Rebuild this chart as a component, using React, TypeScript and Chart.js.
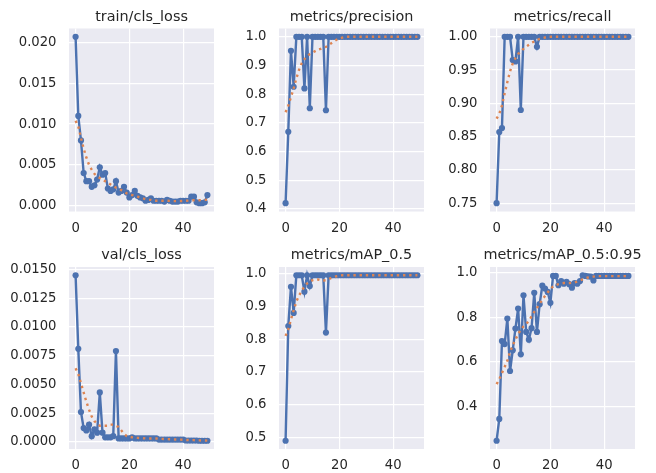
import React, { useEffect, useRef } from 'react';
import { Chart, registerables } from 'chart.js';

Chart.register(...registerables);

// ---------- data ----------
const epochs = Array.from({ length: 50 }, (_, i) => i);
const xTicks = [0, 20, 40];

const trainClsLoss = [
  0.0207, 0.0110, 0.0080, 0.0040, 0.0030, 0.0030, 0.0023, 0.0025, 0.0032, 0.0047,
  0.0038, 0.0040, 0.0021, 0.0018, 0.0020, 0.0030, 0.0016, 0.0018, 0.0023, 0.0016,
  0.0010, 0.0013, 0.0018, 0.0012, 0.0010, 0.0009, 0.0006, 0.0007, 0.0009, 0.0006,
  0.0006, 0.0006, 0.0006, 0.0005, 0.0007, 0.0006, 0.0005, 0.0005, 0.0005, 0.0006,
  0.0006, 0.0006, 0.0006, 0.0011, 0.0011, 0.0004, 0.0003, 0.0003, 0.0004, 0.0013,
];
const trainClsLossSmooth = [
  0.0104, 0.0097, 0.0083, 0.0070, 0.0059, 0.0050, 0.0044, 0.0039, 0.0036, 0.0034,
  0.0032, 0.0030, 0.0028, 0.0026, 0.0024, 0.0022, 0.0021, 0.0019, 0.0017, 0.0015,
  0.0014, 0.0013, 0.0012, 0.0011, 0.0010, 0.0009, 0.0008, 0.0007, 0.0007, 0.0006,
  0.0006, 0.0006, 0.0006, 0.0006, 0.0006, 0.00058, 0.00056, 0.00055, 0.00055, 0.00056,
  0.00058, 0.0006, 0.00062, 0.00065, 0.00066, 0.00066, 0.00066, 0.00068, 0.0007, 0.00072,
];

const precision = [
  0.42, 0.669, 0.951, 0.826, 1, 1, 1, 0.82, 1, 0.751,
  1, 1, 1, 1, 1, 0.744, 1, 1, 1, 1,
  1, 1, 1, 1, 1, 1, 1, 1, 1, 1,
  1, 1, 1, 1, 1, 1, 1, 1, 1, 1,
  1, 1, 1, 1, 1, 1, 1, 1, 1, 1,
];
const precisionSmooth = [
  0.737, 0.76, 0.79, 0.82, 0.855, 0.885, 0.908, 0.922, 0.932, 0.94,
  0.945, 0.95, 0.955, 0.958, 0.962, 0.965, 0.97, 0.978, 0.984, 0.99,
  0.994, 0.997, 0.999, 1, 1, 1, 1, 1, 1, 1,
  1, 1, 1, 1, 1, 1, 1, 1, 1, 1,
  1, 1, 1, 1, 1, 1, 1, 1, 1, 1,
];

const recall = [
  0.75, 0.857, 0.863, 1, 1, 1, 0.965, 0.963, 1, 0.89,
  1, 1, 1, 1, 1, 0.985, 1, 1, 1, 1,
  1, 1, 1, 1, 1, 1, 1, 1, 1, 1,
  1, 1, 1, 1, 1, 1, 1, 1, 1, 1,
  1, 1, 1, 1, 1, 1, 1, 1, 1, 1,
];
const recallSmooth = [
  0.877, 0.884, 0.897, 0.915, 0.932, 0.948, 0.96, 0.968, 0.974, 0.978,
  0.982, 0.985, 0.988, 0.991, 0.993, 0.995, 0.997, 0.998, 0.999, 1,
  1, 1, 1, 1, 1, 1, 1, 1, 1, 1,
  1, 1, 1, 1, 1, 1, 1, 1, 1, 1,
  1, 1, 1, 1, 1, 1, 1, 1, 1, 1,
];

const valClsLoss = [
  0.0145, 0.0081, 0.0026, 0.0012, 0.0010, 0.0015, 0.0005, 0.0011, 0.0008, 0.0043,
  0.0008, 0.0004, 0.0004, 0.0004, 0.0005, 0.0079, 0.0003, 0.0003, 0.0003, 0.0003,
  0.0003, 0.0004, 0.0003, 0.0003, 0.0003, 0.0003, 0.0003, 0.0003, 0.0003, 0.0003,
  0.0003, 0.0002, 0.0002, 0.0002, 0.0002, 0.0002, 0.0002, 0.0002, 0.0002, 0.0002,
  0.0002, 0.00012, 0.00012, 0.00012, 0.00012, 0.00012, 0.0001, 0.0001, 0.0001, 0.0001,
];
const valClsLossSmooth = [
  0.0064, 0.0059, 0.0051, 0.0043, 0.0035, 0.0028, 0.0022, 0.0018, 0.0016, 0.0014,
  0.0014, 0.0014, 0.0014, 0.0015, 0.0015, 0.0014, 0.0013, 0.0010, 0.0007, 0.0005,
  0.00045, 0.0004, 0.00037, 0.00035, 0.00033, 0.00032, 0.0003, 0.0003, 0.0003, 0.0003,
  0.0003, 0.00027, 0.00026, 0.00025, 0.00024, 0.00023, 0.00022, 0.00021, 0.0002, 0.0002,
  0.00018, 0.00017, 0.00016, 0.00015, 0.00015, 0.00014, 0.00013, 0.00012, 0.00012, 0.00011,
];

const mAP05 = [
  0.49, 0.84, 0.96, 0.88, 0.995, 0.995, 0.995, 0.945, 0.995, 0.962,
  0.995, 0.995, 0.995, 0.995, 0.995, 0.82, 0.995, 0.995, 0.995, 0.995,
  0.995, 0.995, 0.995, 0.995, 0.995, 0.995, 0.995, 0.995, 0.995, 0.995,
  0.995, 0.995, 0.995, 0.995, 0.995, 0.995, 0.995, 0.995, 0.995, 0.995,
  0.995, 0.995, 0.995, 0.995, 0.995, 0.995, 0.995, 0.995, 0.995, 0.995,
];
const mAP05Smooth = [
  0.81, 0.83, 0.86, 0.888, 0.915, 0.933, 0.948, 0.96, 0.97, 0.976,
  0.98, 0.982, 0.982, 0.98, 0.979, 0.98, 0.983, 0.987, 0.99, 0.992,
  0.994, 0.995, 0.995, 0.995, 0.995, 0.995, 0.995, 0.995, 0.995, 0.995,
  0.995, 0.995, 0.995, 0.995, 0.995, 0.995, 0.995, 0.995, 0.995, 0.995,
  0.995, 0.995, 0.995, 0.995, 0.995, 0.995, 0.995, 0.995, 0.995, 0.995,
];

const mAP0595 = [
  0.245, 0.343, 0.694, 0.68, 0.795, 0.559, 0.652, 0.75, 0.84, 0.634,
  0.9, 0.735, 0.7, 0.752, 0.911, 0.735, 0.86, 0.943, 0.93, 0.915,
  0.866, 0.987, 0.987, 0.945, 0.964, 0.952, 0.96, 0.95, 0.934, 0.955,
  0.952, 0.964, 0.99, 0.987, 0.985, 0.984, 0.967, 0.987, 0.987, 0.987,
  0.987, 0.987, 0.987, 0.987, 0.987, 0.987, 0.987, 0.987, 0.987, 0.987,
];
const mAP0595Smooth = [
  0.5, 0.522, 0.55, 0.577, 0.605, 0.645, 0.675, 0.7, 0.725, 0.745,
  0.76, 0.77, 0.785, 0.805, 0.825, 0.843, 0.862, 0.88, 0.897, 0.913,
  0.928, 0.94, 0.946, 0.95, 0.953, 0.955, 0.955, 0.955, 0.956, 0.958,
  0.962, 0.967, 0.972, 0.977, 0.98, 0.982, 0.984, 0.986, 0.986, 0.986,
  0.986, 0.986, 0.986, 0.986, 0.986, 0.986, 0.986, 0.986, 0.986, 0.986,
];

const titles = [
  'train/cls_loss', 'metrics/precision', 'metrics/recall',
  'val/cls_loss', 'metrics/mAP_0.5', 'metrics/mAP_0.5:0.95',
];
const yTicks1 = [0, 0.005, 0.01, 0.015, 0.02];
const yTicks2 = [0.4, 0.5, 0.6, 0.7, 0.8, 0.9, 1.0];
const yTicks3 = [0.75, 0.8, 0.85, 0.9, 0.95, 1.0];
const yTicks4 = [0, 0.0025, 0.005, 0.0075, 0.01, 0.0125, 0.015];
const yTicks5 = [0.5, 0.6, 0.7, 0.8, 0.9, 1.0];
const yTicks6 = [0.4, 0.6, 0.8, 1.0];

// ---------- styling ----------
const BLUE = '#4C72B0';
const ORANGE = '#DD8452';
const BG = '#EAEAF2';
const TEXT = '#262626';
const FONT = '"DejaVu Sans", sans-serif';

type Spec = {
  title: string;
  values: number[];
  smooth: number[];
  yTicks: number[];
  decimals: number;
  cell: [number, number, number, number];
  area: [number, number, number, number];
};

const COLS: [number, number, number, number][] = [
  // cellX, cellW, plotLeft, plotRight
  [0, 232, 69, 214],
  [226, 214, 279, 424],
  [438, 218, 490, 635],
];
const ROWS: [number, number, number, number][] = [
  // cellY, cellH, plotTop, plotBottom
  [0, 236, 28.5, 211.5],
  [236, 237, 267, 449],
];

function makeSpec(i: number, values: number[], smooth: number[], yTicks: number[], decimals: number): Spec {
  const c = COLS[i % 3];
  const r = ROWS[Math.floor(i / 3)];
  return {
    title: titles[i],
    values,
    smooth,
    yTicks,
    decimals,
    cell: [c[0], r[0], c[1], r[1]],
    area: [c[2], r[2], c[3], r[3]],
  };
}

const specs: Spec[] = [
  makeSpec(0, trainClsLoss, trainClsLossSmooth, yTicks1, 3),
  makeSpec(1, precision, precisionSmooth, yTicks2, 1),
  makeSpec(2, recall, recallSmooth, yTicks3, 2),
  makeSpec(3, valClsLoss, valClsLossSmooth, yTicks4, 4),
  makeSpec(4, mAP05, mAP05Smooth, yTicks5, 1),
  makeSpec(5, mAP0595, mAP0595Smooth, yTicks6, 1),
];

const panelPlugin = {
  id: 'axesDeco',
  beforeDraw(chart: any) {
    const { ctx, chartArea: a } = chart;
    ctx.save();
    ctx.fillStyle = BG;
    ctx.fillRect(a.left, a.top, a.right - a.left, a.bottom - a.top);
    ctx.restore();
  },
  afterDraw(chart: any, _args: any, opts: any) {
    const { ctx, chartArea: a } = chart;
    ctx.save();
    ctx.font = `14.4px ${FONT}`;
    ctx.fillStyle = TEXT;
    ctx.textAlign = 'center';
    ctx.textBaseline = 'alphabetic';
    ctx.fillText(opts.text, (a.left + a.right) / 2, a.top - 8);
    ctx.restore();
  },
};

function Panel({ spec }: { spec: Spec }) {
  const ref = useRef<HTMLCanvasElement>(null);
  useEffect(() => {
    const [cx, cy, cw, ch] = spec.cell;
    const [L, T, R, B] = spec.area;
    const lo = Math.min(...spec.values);
    const hi = Math.max(...spec.values);
    const m = (hi - lo) * 0.05;
    const e0 = epochs[0];
    const e1 = epochs[epochs.length - 1];
    const xm = (e1 - e0) * 0.05;
    const tickFont = { family: FONT, size: 13.2 };
    const chart = new Chart(ref.current as HTMLCanvasElement, {
      type: 'line',
      data: {
        datasets: [
          {
            data: spec.smooth.map((y, i) => ({ x: epochs[i], y })),
            borderColor: ORANGE,
            borderWidth: 2.4,
            borderDash: [2.4, 3.8],
            borderCapStyle: 'butt',
            pointRadius: 0,
            pointHoverRadius: 0,
            fill: false,
            tension: 0,
            order: 0,
          },
          {
            data: spec.values.map((y, i) => ({ x: epochs[i], y })),
            borderColor: BLUE,
            backgroundColor: BLUE,
            borderWidth: 2.4,
            pointRadius: 3.1,
            pointHoverRadius: 3.1,
            pointBorderWidth: 0,
            pointBackgroundColor: BLUE,
            fill: false,
            tension: 0,
            order: 1,
          },
        ],
      } as any,
      options: {
        responsive: false,
        animation: false,
        devicePixelRatio: 1,
        events: [],
        layout: {
          autoPadding: false,
          padding: { left: 0, top: T - cy, right: cx + cw - R, bottom: 0 },
        },
        plugins: {
          legend: { display: false },
          tooltip: { enabled: false },
          axesDeco: { text: spec.title },
        } as any,
        scales: {
          x: {
            type: 'linear',
            min: e0 - xm,
            max: e1 + xm,
            afterBuildTicks: (s: any) => {
              s.ticks = xTicks.map((value) => ({ value }));
            },
            afterFit: (s: any) => {
              s.height = cy + ch - B;
            },
            grid: { color: '#FFFFFF', lineWidth: 1.2, drawTicks: false },
            border: { display: false },
            ticks: {
              font: tickFont,
              color: TEXT,
              padding: 9,
              autoSkip: false,
              maxRotation: 0,
              callback: (v: any) => String(v),
            },
          },
          y: {
            type: 'linear',
            min: lo - m,
            max: hi + m,
            afterBuildTicks: (s: any) => {
              s.ticks = spec.yTicks.map((value) => ({ value }));
            },
            afterFit: (s: any) => {
              s.width = L - cx;
            },
            grid: { color: '#FFFFFF', lineWidth: 1.2, drawTicks: false },
            border: { display: false },
            ticks: {
              font: tickFont,
              color: TEXT,
              padding: 12.5,
              autoSkip: false,
              callback: (v: any) => Number(v).toFixed(spec.decimals),
            },
          },
        },
      } as any,
      plugins: [panelPlugin],
    });
    return () => chart.destroy();
  }, [spec]);
  const [cx, cy, cw, ch] = spec.cell;
  return (
    <canvas
      ref={ref}
      width={cw}
      height={ch}
      style={{ position: 'absolute', left: cx, top: cy, width: cw, height: ch }}
    />
  );
}

export default function App() {
  return (
    <div
      style={{
        position: 'fixed',
        left: 0,
        top: 0,
        width: 656,
        height: 473,
        background: '#FFFFFF',
        overflow: 'hidden',
      }}
    >
      {specs.map((s, i) => (
        <Panel key={i} spec={s} />
      ))}
    </div>
  );
}
